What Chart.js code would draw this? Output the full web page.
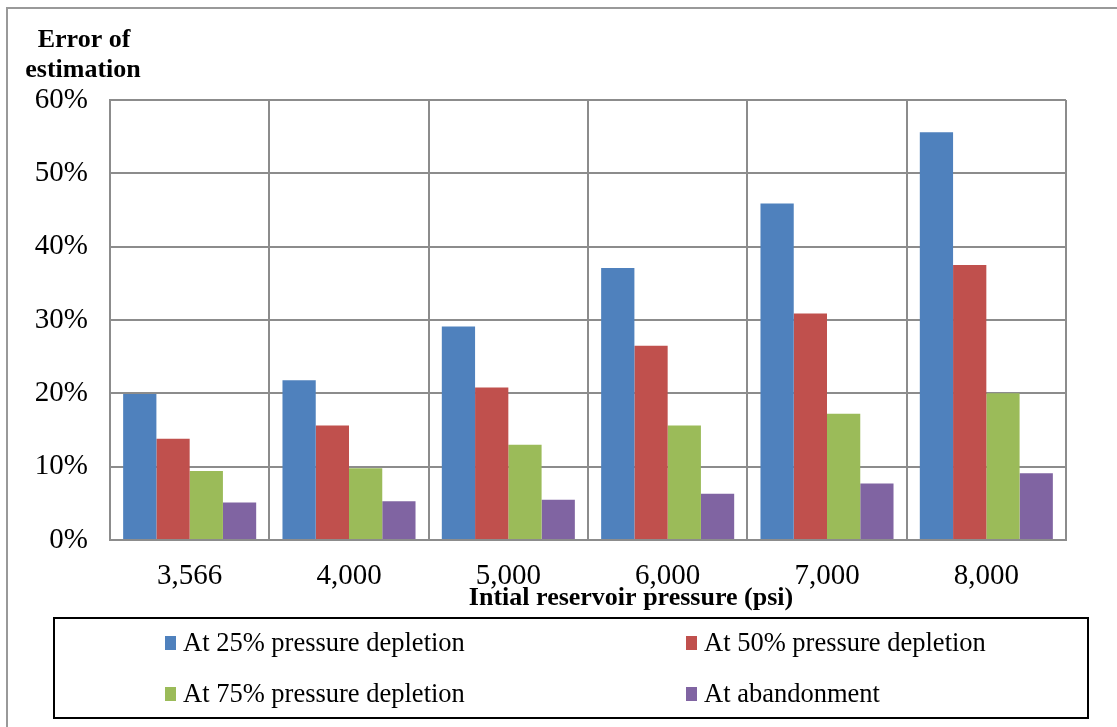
<!DOCTYPE html>
<html>
<head>
<meta charset="utf-8">
<script src="https://cdn.jsdelivr.net/npm/chart.js@4.4.0/dist/chart.umd.min.js"></script>
<style>
  html, body { margin: 0; padding: 0; background: #fff; }
  #wrap { position: relative; width: 1117px; height: 727px; }
</style>
</head>
<body>
<div id="wrap"><canvas id="graf" width="1117" height="727"></canvas></div>
<script>
// pressures on the x axis
const tlaky = ['3,566', '4,000', '5,000', '6,000', '7,000', '8,000'];
// error of estimation, %
const pri25 = [19.9, 21.8, 29.1, 37.1, 45.9, 55.6];
const pri50 = [13.8, 15.6, 20.8, 26.5, 30.9, 37.5];
const pri75 = [9.4, 9.8, 13.0, 15.6, 17.2, 20.0];
const opustenie = [5.1, 5.3, 5.5, 6.3, 7.7, 9.1];
const nazvy = ['At 25% pressure depletion', 'At 50% pressure depletion', 'At 75% pressure depletion', 'At abandonment'];
const farby = ['#4F81BD', '#C0504D', '#9BBB59', '#8064A2'];
const yTicky = [0, 10, 20, 30, 40, 50, 60];

const pismo = '"Liberation Serif", "Times New Roman", serif';
const siva = '#8c8c8c';

// frame, axis titles and the boxed legend
const doplnky = {
    id: 'doplnky',
    afterDraw(chart) {
        const ctx = chart.ctx;
        ctx.save();
        // outer frame
        ctx.strokeStyle = '#999';
        ctx.lineWidth = 2;
        ctx.beginPath();
        ctx.moveTo(7, 727);
        ctx.lineTo(7, 8);
        ctx.lineTo(1117, 8);
        ctx.stroke();
        // titles
        ctx.fillStyle = '#000';
        ctx.font = 'bold 26px ' + pismo;
        ctx.textAlign = 'center';
        ctx.textBaseline = 'middle';
        ctx.fillText('Error of', 84, 40);
        ctx.fillText('estimation', 83, 70);
        ctx.fillText('Intial reservoir pressure (psi)', 631, 598);
        // legend box
        ctx.strokeStyle = '#000';
        ctx.lineWidth = 2;
        ctx.strokeRect(54, 618, 1034, 100);
        ctx.font = '26.5px ' + pismo;
        ctx.textAlign = 'left';
        const stlpce = [165, 686];
        const riadky = [643, 694];
        chart.data.datasets.forEach((ds, i) => {
            const x = stlpce[i % 2], y = riadky[Math.floor(i / 2)];
            ctx.fillStyle = ds.backgroundColor;
            ctx.fillRect(x, y - 7, 11, 14);
            ctx.fillStyle = '#000';
            ctx.fillText(ds.label, x + 18, y + 1);
        });
        ctx.restore();
    }
};

document.addEventListener("DOMContentLoaded", ()=>{
    let cont = document.getElementById('graf').getContext('2d');
    let rady = [pri25, pri50, pri75, opustenie];
    let graf = new Chart(cont, {
        type: 'bar',
        data: {
            labels: tlaky,
            datasets: rady.map((d, i) => ({
                label: nazvy[i],
                data: d,
                backgroundColor: farby[i],
                borderWidth: 0,
                categoryPercentage: 0.835,
                barPercentage: 1.0,
            }))
        },
        options: {
            responsive: false,
            animation: false,
            layout: { padding: { left: 0, top: 100, right: 51, bottom: 113 } },
            plugins: {
                legend: { display: false },
                tooltip: { enabled: false },
            },
            scales: {
                x: {
                    offset: true,
                    grid: { color: siva, lineWidth: 2, drawTicks: false, offset: true },
                    border: { color: siva, width: 2 },
                    ticks: { color: '#000', font: { family: pismo, size: 29 }, padding: 19, maxRotation: 0 },
                    afterFit(s) { s.height = 74; },
                },
                y: {
                    min: 0,
                    max: 60,
                    afterBuildTicks(s) { s.ticks = yTicky.map(v => ({ value: v })); },
                    grid: { color: siva, lineWidth: 2, drawTicks: false },
                    border: { color: siva, width: 2 },
                    ticks: { color: '#000', font: { family: pismo, size: 29 }, padding: 22, callback: v => v + '%' },
                    afterFit(s) { s.width = 110; },
                },
            },
        },
        plugins: [doplnky],
    });
});
</script>
</body>
</html>
